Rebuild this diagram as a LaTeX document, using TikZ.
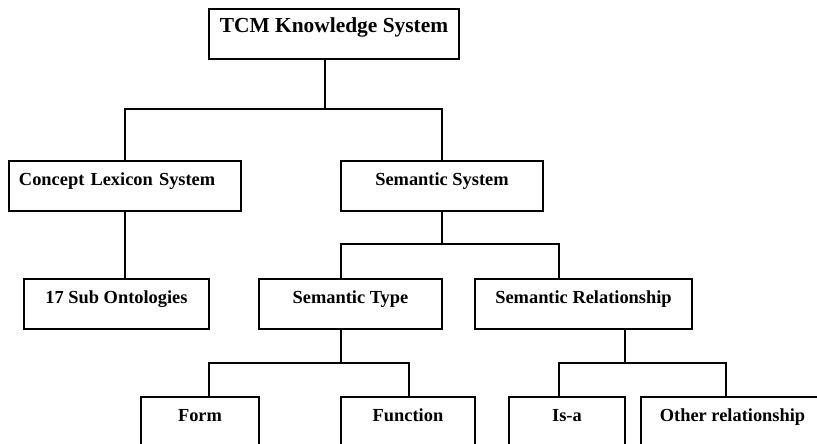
\documentclass[tikz,border=0pt]{standalone}
\usepackage{fontspec}
\setmainfont{Liberation Serif}
\begin{document}
\begin{tikzpicture}[x=1pt,y=-1pt,
  box/.style={draw,line width=1.8pt,inner sep=0pt,minimum height=50pt,
    text height=14pt,text depth=16pt,font=\bfseries\fontsize{18.4}{20}\selectfont},
  link/.style={line width=1.8pt}]
\clip (0,0) rectangle (817,444);
\fill[white] (0,0) rectangle (817,444);
% nodes
\node[box,minimum width=250pt,font=\bfseries\fontsize{21.4}{23}\selectfont] (top) at (334,34) {TCM Knowledge System};
\node[box,minimum width=232pt,text width=212pt,inner xsep=10pt,align=left] (concept) at (125,186) {Concept Lexicon System};
\node[box,minimum width=202pt] (semsys) at (442,186) {Semantic System};
\node[box,minimum width=185pt] (sub) at (116.5,304) {17 Sub Ontologies};
\node[box,minimum width=183pt] (stype) at (350.5,304) {Semantic Type};
\node[box,minimum width=217pt] (srel) at (583.5,304) {Semantic Relationship};
\node[box,minimum width=118pt] (form) at (200,422) {Form};
\node[box,minimum width=134pt] (func) at (408,422) {Function};
\node[box,minimum width=116pt] (isa) at (567,422) {Is-a};
\node[box,minimum width=183pt] (other) at (732.5,422) {Other relationship};
% fork points
\coordinate (f1) at (325,109);
\coordinate (f2) at (442,244);
\coordinate (f3) at (341,363);
\coordinate (f4) at (625,363);
% connectors
\draw[link] (top.south -| f1) -- (f1);
\draw[link] (concept.north) -- (concept.north |- f1) -- (semsys.north |- f1) -- (semsys.north);
\draw[link] (concept.south) -- (concept.south |- sub.north);
\draw[link] (semsys.south) -- (f2);
\draw[link] (stype.north -| f3) -- (f3 |- f2) -- (559,244) -- (srel.north -| 559,0);
\draw[link] (stype.south -| f3) -- (f3);
\draw[link] (form.north -| 209,0) -- (209,363) -- (409,363) -- (func.north -| 409,0);
\draw[link] (srel.south -| f4) -- (f4);
\draw[link] (isa.north -| 559,0) -- (559,363) -- (726,363) -- (other.north -| 726,0);
\end{tikzpicture}
\end{document}
